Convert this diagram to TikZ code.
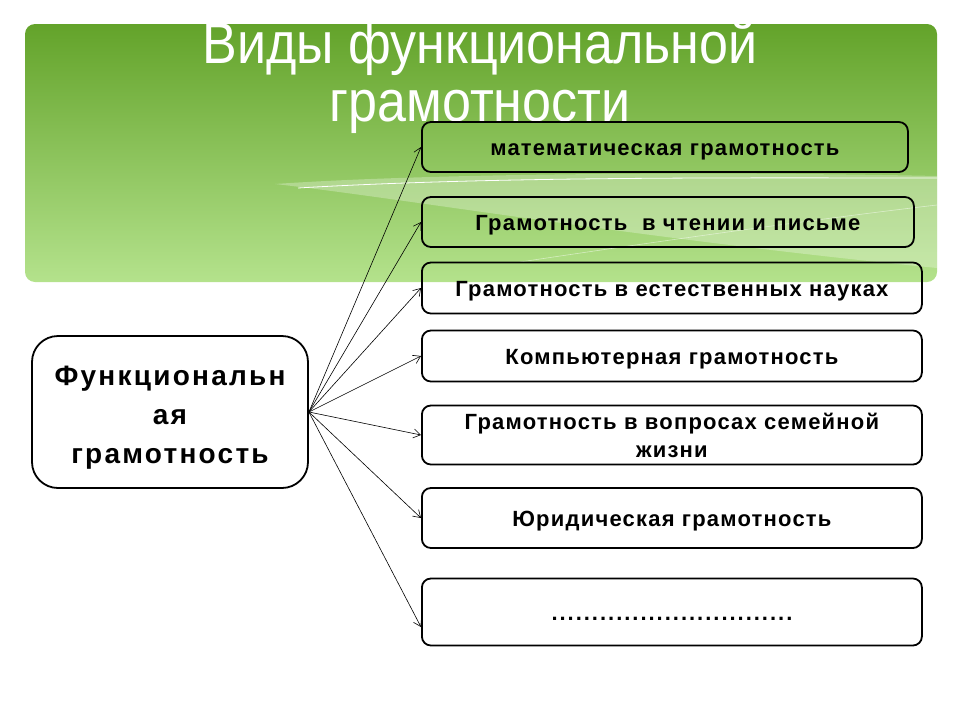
\documentclass[tikz,border=0pt]{standalone}
\usepackage{fontspec}
\setmainfont{Liberation Sans}
\usetikzlibrary{arrows.meta}
\definecolor{bannertop}{HTML}{63A32A}
\definecolor{bannerbot}{HTML}{B4E28C}
\tikzset{
  kindbox/.style={draw, line width=1.8pt, rounded corners=9pt, anchor=west,
                  minimum height=50pt, align=center, inner sep=2pt,
                  font=\fontsize{22}{28}\selectfont\bfseries\addfontfeatures{LetterSpace=5.5}},
  kindline/.style={kindbox, text height=17pt, text depth=1pt},
  mainbox/.style={draw, line width=1.8pt, rounded corners=26pt,
                  minimum width=276pt, minimum height=152pt, align=center,
                  font=\fontsize{28}{39}\selectfont\bfseries\addfontfeatures{LetterSpace=8}},
  link/.style={->, line width=0.6pt},
}

\begin{document}
\begin{tikzpicture}[x=1pt, y=-1pt, >={Straight Barb[length=7pt, width=9pt]}]
    \useasboundingbox (0,0) rectangle (960,720);
    % green banner
    \shade[top color=bannertop, bottom color=bannerbot, rounded corners=10pt]
      (25,24) rectangle (937,282);
    \fill[white, opacity=0.28] (275,184) .. controls (450,172) and (750,172) .. (937,176)
      -- (937,268) .. controls (650,240) and (400,198) .. cycle;
    \draw[white, line width=0.8pt] (298,188) .. controls (500,176) and (750,178) .. (937,178);
    \draw[white, opacity=0.5, line width=0.6pt] (520,262) .. controls (700,235) and (850,215) .. (937,205);
    \node[white, align=center, font=\fontsize{52}{58}\selectfont] (title) at (480,77)
      {\scalebox{1}[1.12]{Виды функциональной}\\\scalebox{1}[1.12]{грамотности}};
    % left box
    \node[mainbox] (func) at (170,412) {\rule{0pt}{31pt}Функциональн\\ая\\грамотность};
    % right boxes
    \node[kindline, minimum width=486pt] (b1) at (421,147) {математическая грамотность};
    \node[kindline, minimum width=492pt] (b2) at (421,222) {Грамотность~ в чтении и письме};
    \node[kindline, minimum width=500pt, minimum height=51pt] (b3) at (421,288) {Грамотность в естественных науках};
    \node[kindline, minimum width=500pt, minimum height=51pt] (b4) at (421,356) {Компьютерная грамотность};
    \node[kindbox, minimum width=500pt, minimum height=59pt] (b5) at (421,435)
      {Грамотность в вопросах семейной\\жизни};
    \node[kindline, minimum width=500pt, minimum height=60pt] (b6) at (421,518) {Юридическая грамотность};
    \node[kindline, minimum width=500pt, minimum height=67pt, font=\fontsize{22}{28}\selectfont\bfseries\addfontfeatures{LetterSpace=9}] (b7) at (421,612)
      {..............................};
    \coordinate (b7in) at (421,627);
    % arrows
    \draw[link] (func.east) -- (b1.west);
    \draw[link] (func.east) -- (b2.west);
    \draw[link] (func.east) -- (b3.west);
    \draw[link] (func.east) -- (b4.west);
    \draw[link] (func.east) -- (b5.west);
    \draw[link] (func.east) -- (b6.west);
    \draw[link] (func.east) -- (b7in);
  \end{tikzpicture}
\end{document}
